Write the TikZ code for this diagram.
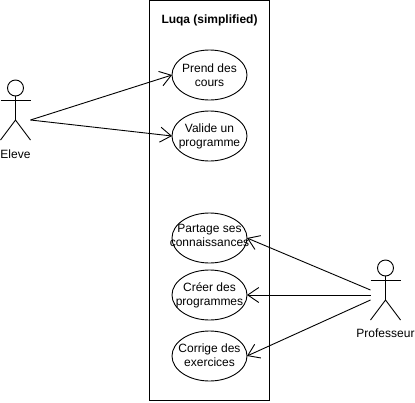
\documentclass[tikz,border=0pt]{standalone}
\usepackage{fontspec}
\setmainfont{Liberation Sans}
\usetikzlibrary{arrows.meta,shapes.geometric}
\tikzset{
  usecase/.style={draw=black,ellipse,line width=0.9pt,minimum width=75pt,minimum height=50pt,inner sep=0pt,outer sep=0pt},
  ulabel/.style={font=\fontsize{12}{14}\selectfont,align=center,inner sep=0pt},
  actorline/.style={draw=black,line width=0.9pt},
  assoc/.style={draw=black,line width=0.9pt,-{Straight Barb[length=11pt,width=15pt,line width=0.9pt]},shorten >=0pt}
}
\begin{document}
\begin{tikzpicture}[x=1pt,y=-1pt]
\useasboundingbox (0,0) rectangle (415,402);
\node[draw=black,line width=0.9pt,minimum width=119.5pt,minimum height=399.5pt,inner sep=0pt,outer sep=0pt] (system) at (209.25,200.25) {};
\node[ulabel,font=\bfseries\fontsize{12}{14}\selectfont] (title) at (209.5,20) {Luqa (simplified)};
\node[usecase,label={[ulabel]center:Prend des\\cours}] (prend) at (209.5,75) {};
\node[usecase,label={[ulabel]center:Valide un\\programme}] (valide) at (209.5,136) {};
\node[usecase,label={[ulabel,yshift=3pt]center:Partage ses\\connaissances}] (partage) at (209.5,238) {};
\node[usecase,label={[ulabel]center:Créer des\\programmes}] (creer) at (209.5,295) {};
\node[usecase,label={[ulabel,yshift=1pt]center:Corrige des\\exercices}] (corrige) at (209.5,356) {};
% Eleve
\node[draw=black,circle,line width=0.9pt,minimum size=16pt,inner sep=0pt,outer sep=0pt] (eleveHead) at (15.5,88) {};
\coordinate (eleveHip) at (15.5,120);
\coordinate (eleveArmL) at (0.5,100);
\coordinate (eleveArmR) at (30.5,100);
\coordinate (eleveLegL) at (0.5,140);
\coordinate (eleveLegR) at (30.5,140);
\coordinate (eleveHand) at (30.5,120);
\draw[actorline] (eleveHead.south) -- (eleveHip);
\draw[actorline] (eleveArmL) -- (eleveArmR);
\draw[actorline] (eleveLegL) -- (eleveHip) -- (eleveLegR);
\node[ulabel] (eleve) at (15.5,154) {Eleve};
% Professeur
\node[draw=black,circle,line width=0.9pt,minimum size=16pt,inner sep=0pt,outer sep=0pt] (profHead) at (385.5,268) {};
\coordinate (profHip) at (385.5,300);
\coordinate (profArmL) at (370.5,280);
\coordinate (profArmR) at (400.5,280);
\coordinate (profLegL) at (370.5,320);
\coordinate (profLegR) at (400.5,320);
\coordinate (profA) at (370.5,290);
\coordinate (profB) at (370.5,295);
\coordinate (profC) at (370.5,300);
\draw[actorline] (profHead.south) -- (profHip);
\draw[actorline] (profArmL) -- (profArmR);
\draw[actorline] (profLegL) -- (profHip) -- (profLegR);
\node[ulabel] (prof) at (385.5,333.5) {Professeur};
% connectors
\draw[assoc] (eleveHand) -- (prend.west);
\draw[assoc] (eleveHand) -- (valide.west);
\draw[assoc] (profA) -- (partage.east);
\draw[assoc] (profB) -- (creer.east);
\draw[assoc] (profC) -- (corrige.east);
\end{tikzpicture}
\end{document}
